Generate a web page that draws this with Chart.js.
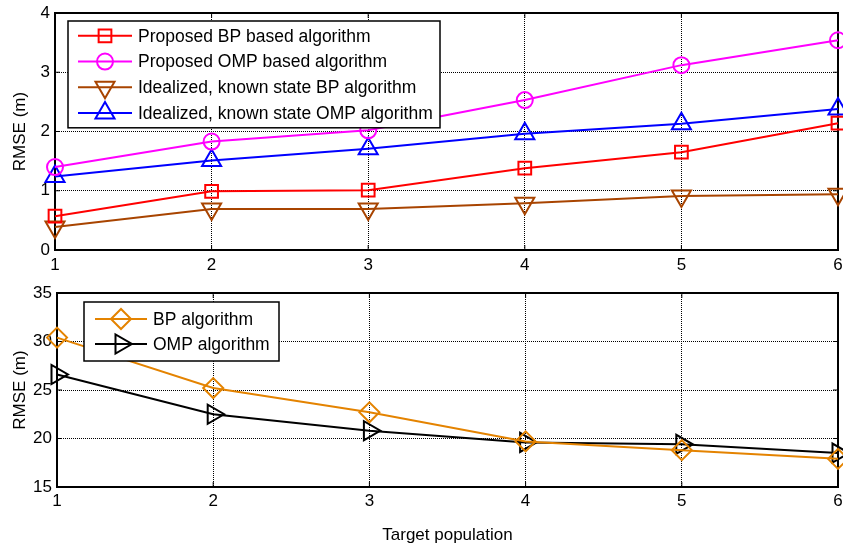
<!DOCTYPE html>
<html>
<head>
<meta charset="utf-8">
<script src="https://cdn.jsdelivr.net/npm/chart.js@4.4.1/dist/chart.umd.min.js"></script>
<style>
  html, body { margin: 0; padding: 0; background: #fff; }
  #wrap { position: relative; width: 843px; height: 550px; overflow: hidden; }
  .panel { position: absolute; left: 0; width: 851px; }
  #top-panel { top: 0; height: 282px; }
  #bottom-panel { top: 270px; height: 280px; }
</style>
</head>
<body>
<div id="wrap">
  <div class="panel" id="top-panel"><canvas id="top-chart"></canvas></div>
  <div class="panel" id="bottom-panel"><canvas id="bottom-chart"></canvas></div>
</div>
<script>
const TARGETS = [1, 2, 3, 4, 5, 6];
const TOP_Y_TICKS = [0, 1, 2, 3, 4];
const BOTTOM_Y_TICKS = [15, 20, 25, 30, 35];

// top panel: RMSE (m) per target population
const PROPOSED_BP = [0.57, 0.99, 1.01, 1.38, 1.65, 2.14];
const PROPOSED_OMP = [1.4, 1.83, 2.02, 2.53, 3.12, 3.54];
const KNOWN_BP = [0.39, 0.69, 0.69, 0.79, 0.91, 0.94];
const KNOWN_OMP = [1.24, 1.51, 1.71, 1.96, 2.13, 2.38];

// bottom panel
const BP_ALG = [30.4, 25.2, 22.7, 19.7, 18.8, 17.9];
const OMP_ALG = [26.6, 22.5, 20.8, 19.6, 19.4, 18.5];

const FONT = { family: "'Liberation Sans', Arial, sans-serif", size: 17 };
const LEGEND_FONT_SIZE = 17.5;

const toPoints = (values) => TARGETS.map((x, i) => ({ x, y: values[i] }));

function series(label, values, color, pointStyle, radius, rotation = 0) {
  return {
    label,
    data: toPoints(values),
    borderColor: color,
    borderWidth: 2,
    pointStyle,
    pointRadius: radius,
    pointRotation: rotation,
    pointBorderWidth: 2,
    pointBorderColor: color,
    pointBackgroundColor: "rgba(0,0,0,0)",
    tension: 0,
    clip: false,
  };
}

function strokeLine(ctx, x1, y1, x2, y2) {
  ctx.beginPath();
  ctx.moveTo(x1, y1);
  ctx.lineTo(x2, y2);
  ctx.stroke();
}

// MATLAB-style box with inward ticks
const framePlugin = {
  id: "frame",
  beforeDatasetsDraw(chart) {
    const { ctx, chartArea: a, scales } = chart;
    ctx.save();
    ctx.strokeStyle = "#000";
    ctx.lineWidth = 1;
    scales.x.ticks.forEach((t) => {
      const px = scales.x.getPixelForValue(t.value);
      strokeLine(ctx, px, a.bottom, px, a.bottom - 5);
      strokeLine(ctx, px, a.top, px, a.top + 5);
    });
    scales.y.ticks.forEach((t) => {
      const py = scales.y.getPixelForValue(t.value);
      strokeLine(ctx, a.left, py, a.left + 5, py);
      strokeLine(ctx, a.right, py, a.right - 5, py);
    });
    ctx.lineWidth = 2;
    ctx.strokeRect(a.left, a.top, a.right - a.left, a.bottom - a.top);
    ctx.restore();
  },
};

// legend box with line + marker samples, drawn inside the plot area
const boxLegendPlugin = {
  id: "boxLegend",
  afterDatasetsDraw(chart, args, opts) {
    const { ctx, chartArea: a } = chart;
    const datasets = chart.data.datasets;
    const x0 = a.left + opts.offsetX;
    const y0 = a.top + opts.offsetY;
    const h = opts.padTop * 2 + opts.rowHeight * datasets.length;
    ctx.save();
    ctx.fillStyle = "#fff";
    ctx.fillRect(x0, y0, opts.width, h);
    ctx.strokeStyle = "#000";
    ctx.lineWidth = 1.5;
    ctx.strokeRect(x0, y0, opts.width, h);
    ctx.font = `${LEGEND_FONT_SIZE}px ${FONT.family}`;
    ctx.textBaseline = "middle";
    datasets.forEach((ds, i) => {
      const cy = y0 + opts.padTop + opts.rowHeight * (i + 0.5);
      const sx = x0 + opts.sampleStart;
      ctx.strokeStyle = ds.borderColor;
      ctx.lineWidth = ds.borderWidth;
      strokeLine(ctx, sx, cy, sx + opts.sampleLength, cy);
      ctx.fillStyle = "rgba(0,0,0,0)";
      Chart.helpers.drawPoint(
        ctx,
        {
          pointStyle: ds.pointStyle,
          rotation: ds.pointRotation,
          radius: ds.pointRadius,
          borderWidth: ds.pointBorderWidth,
        },
        sx + opts.sampleLength / 2,
        cy
      );
      ctx.fillStyle = "#000";
      ctx.fillText(ds.label, sx + opts.sampleLength + opts.textGap, cy + 1);
    });
    ctx.restore();
  },
};

function makeChart(canvasId, datasets, cfg) {
  return new Chart(document.getElementById(canvasId), {
    type: "line",
    data: { datasets },
    options: {
      responsive: true,
      maintainAspectRatio: false,
      animation: false,
      events: [],
      layout: { padding: { top: cfg.padTop, right: 5, left: 0, bottom: 0 } },
      scales: {
        x: {
          type: "linear",
          min: 1,
          max: 6,
          afterBuildTicks(scale) {
            scale.ticks = TARGETS.map((value) => ({ value }));
          },
          afterFit(scale) {
            scale.height = cfg.xHeight;
            scale.paddingLeft = 0;
            scale.paddingRight = 0;
          },
          grid: { color: "#000", lineWidth: 1, drawTicks: false },
          border: { display: false, dash: [1, 1] },
          ticks: { color: "#000", font: FONT, padding: cfg.xPad, maxRotation: 0 },
          title: cfg.xTitle
            ? {
                display: true,
                text: cfg.xTitle,
                color: "#000",
                font: FONT,
                padding: { top: 0, bottom: 4 },
              }
            : { display: false },
        },
        y: {
          type: "linear",
          min: cfg.yTicks[0],
          max: cfg.yTicks[cfg.yTicks.length - 1],
          afterBuildTicks(scale) {
            scale.ticks = cfg.yTicks.map((value) => ({ value }));
          },
          afterFit(scale) {
            scale.width = cfg.yWidth;
            scale.paddingTop = 0;
            scale.paddingBottom = 0;
          },
          grid: { color: "#000", lineWidth: 1, drawTicks: false },
          border: { display: false, dash: [1, 1] },
          ticks: { color: "#000", font: FONT, padding: 5 },
          title: {
            display: true,
            text: "RMSE (m)",
            color: "#000",
            font: FONT,
            padding: { top: 10, bottom: 0 },
          },
        },
      },
      plugins: {
        legend: { display: false },
        tooltip: { enabled: false },
        boxLegend: cfg.legend,
      },
    },
    plugins: [framePlugin, boxLegendPlugin],
  });
}

makeChart(
  "top-chart",
  [
    series("Proposed BP based algorithm", PROPOSED_BP, "#ff0000", "rect", 9),
    series("Proposed OMP based algorithm", PROPOSED_OMP, "#ff00ff", "circle", 8),
    series("Idealized, known state BP algorithm", KNOWN_BP, "#a84400", "triangle", 11, 180),
    series("Idealized, known state OMP algorithm", KNOWN_OMP, "#0000ff", "triangle", 11),
  ],
  {
    padTop: 12,
    xHeight: 32,
    xPad: 5,
    yWidth: 55,
    yTicks: TOP_Y_TICKS,
    legend: {
      offsetX: 13,
      offsetY: 8,
      width: 372,
      rowHeight: 25.7,
      padTop: 2,
      sampleStart: 10,
      sampleLength: 54,
      textGap: 6,
    },
  }
);

makeChart(
  "bottom-chart",
  [
    series("BP algorithm", BP_ALG, "#e48300", "rectRot", 10),
    series("OMP algorithm", OMP_ALG, "#000000", "triangle", 11, 90),
  ],
  {
    padTop: 23,
    xHeight: 63,
    xPad: 4,
    yWidth: 57,
    yTicks: BOTTOM_Y_TICKS,
    xTitle: "Target population",
    legend: {
      offsetX: 27,
      offsetY: 9,
      width: 195,
      rowHeight: 25,
      padTop: 4.5,
      sampleStart: 11,
      sampleLength: 52,
      textGap: 6,
    },
  }
);
</script>
</body>
</html>
